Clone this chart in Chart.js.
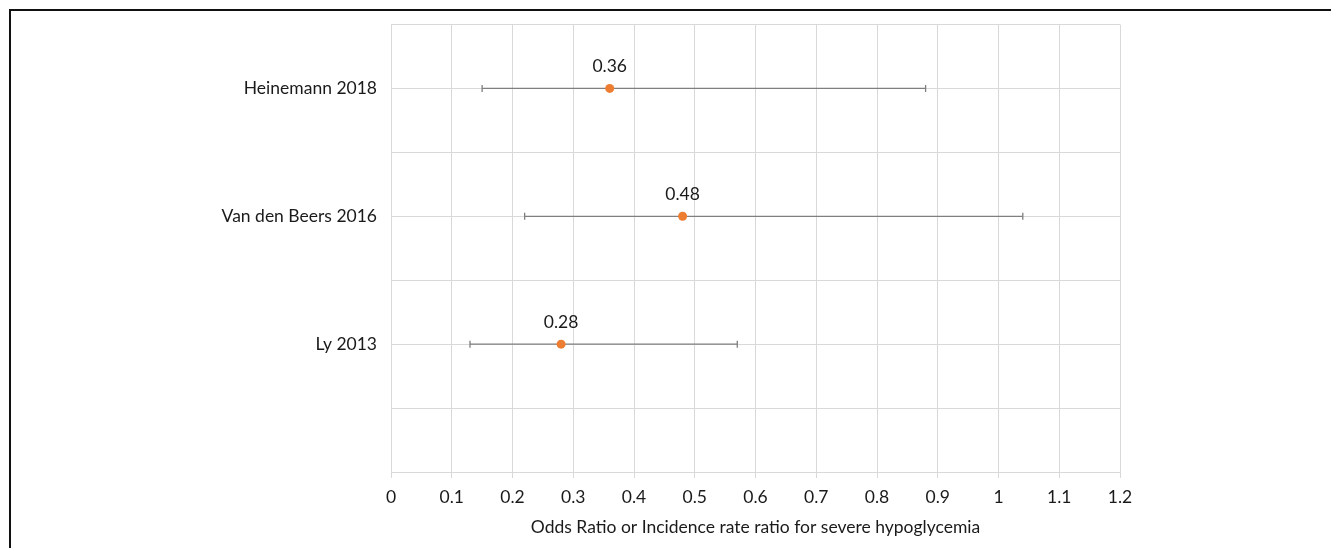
<!DOCTYPE html>
<html>
<head>
<meta charset="utf-8">
<script src="https://cdn.jsdelivr.net/npm/chart.js@4.4.1/dist/chart.umd.min.js"></script>
<style>
  html, body { margin: 0; padding: 0; background: #fff; overflow: hidden; }
  #wrap { position: relative; width: 1331px; height: 548px; }
  #frame { position: absolute; left: 9px; top: 9px; width: 1340px; height: 560px;
           border-top: 2px solid #111; border-left: 2px solid #111; box-sizing: border-box; }
  canvas { position: absolute; left: 0; top: 0; }
</style>
</head>
<body>
<div id="wrap">
  <div id="frame"></div>
  <canvas id="c" width="1331" height="548"></canvas>
</div>
<script>
// ---- data ----
const studies   = ['Heinemann 2018', 'Van den Beers 2016', 'Ly 2013'];
const studyRows = [3, 2, 1];
const estimates = [0.36, 0.48, 0.28];
const lowerCI   = [0.15, 0.22, 0.13];
const upperCI   = [0.88, 1.04, 0.57];
const xTicksMin = 0, xTicksMax = 1.2, xStep = 0.1;
const axisTitle = 'Odds Ratio or Incidence rate ratio for severe hypoglycemia';

const FONT = 'Lato, "Open Sans", sans-serif';
const TEXT = '#1a1a1a';
const FS = 17.5;

const pointData = estimates.map((v, i) => ({ x: v, y: studyRows[i] }));

const errorSets = studies.map((s, i) => ({
  type: 'line',
  label: s + ' CI',
  data: [{ x: lowerCI[i], y: studyRows[i] }, { x: upperCI[i], y: studyRows[i] }],
  borderColor: '#7f7f7f',
  borderWidth: 1.3,
  pointStyle: 'line',
  rotation: 90,
  pointRadius: 3.5,
  pointBorderColor: '#7f7f7f',
  pointBorderWidth: 1.3,
  pointHoverRadius: 3.5,
  fill: false,
  order: 2
}));

const labelPlugin = {
  id: 'valueLabels',
  afterDatasetsDraw(chart) {
    const meta = chart.getDatasetMeta(0);
    const ctx = chart.ctx;
    ctx.save();
    ctx.font = FS + 'px ' + FONT;
    ctx.fillStyle = TEXT;
    ctx.textAlign = 'center';
    ctx.textBaseline = 'middle';
    meta.data.forEach((pt, i) => {
      ctx.fillText(estimates[i].toFixed(2), pt.x, pt.y - 22);
    });
    ctx.restore();
  }
};

new Chart(document.getElementById('c'), {
  type: 'scatter',
  data: {
    datasets: [
      {
        label: 'Estimate',
        data: pointData,
        backgroundColor: '#ED7D31',
        borderColor: '#ED7D31',
        pointRadius: 4.5,
        pointHoverRadius: 4.5,
        borderWidth: 0,
        order: 0
      },
      ...errorSets
    ]
  },
  options: {
    responsive: false,
    devicePixelRatio: 1,
    animation: false,
    layout: { padding: { left: 0, right: 211, top: 23, bottom: 0 } },
    plugins: {
      legend: { display: false },
      tooltip: { enabled: false }
    },
    scales: {
      x: {
        type: 'linear',
        min: xTicksMin,
        max: xTicksMax,
        ticks: {
          stepSize: xStep,
          color: TEXT,
          font: { family: FONT, size: FS },
          padding: 9,
          callback: v => String(Math.round(v * 10) / 10)
        },
        grid: { color: '#d9d9d9', lineWidth: 1, tickLength: 6, tickColor: '#d9d9d9' },
        border: { color: '#d9d9d9' },
        title: {
          display: true,
          text: axisTitle,
          color: TEXT,
          font: { family: FONT, size: FS },
          padding: { top: 0, bottom: 10 }
        },
        afterFit(scale) { scale.height = 76; }
      },
      y: {
        type: 'linear',
        min: 0,
        max: 3.5,
        ticks: {
          stepSize: 0.5,
          color: TEXT,
          font: { family: FONT, size: FS },
          padding: 14,
          callback: v => {
            const idx = studyRows.indexOf(v);
            return idx >= 0 ? studies[idx] : '';
          }
        },
        grid: { color: '#d9d9d9', lineWidth: 1, drawTicks: false },
        border: { display: false },
        afterFit(scale) { scale.width = 391; }
      }
    }
  },
  plugins: [labelPlugin]
});
</script>
</body>
</html>
